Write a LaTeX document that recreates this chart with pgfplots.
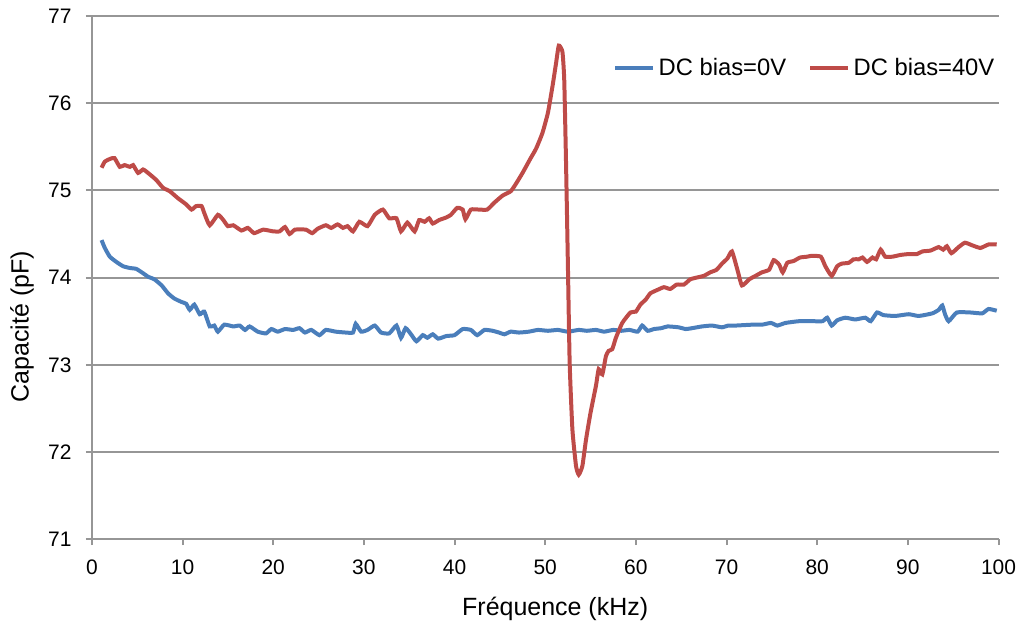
\documentclass[border=0pt]{standalone}
\usepackage{fontspec}
\setmainfont{Liberation Sans}
\usepackage{pgfplots}
\pgfplotsset{compat=1.18}

\definecolor{bias0}{RGB}{74,126,187}
\definecolor{bias40}{RGB}{190,75,72}
\definecolor{gridgray}{RGB}{150,150,150}

\begin{document}
\begin{tikzpicture}
\begin{axis}[
  scale only axis,
  width=454pt, height=262pt,
  xmin=0, xmax=100, ymin=71, ymax=77,
  xtick={0,10,...,100}, ytick={71,72,...,77},
  axis x line*=bottom, axis y line*=left,
  axis line style={gridgray, line width=1pt},
  tick style={gridgray, line width=1pt},
  tick align=outside, major tick length=3pt,
  ymajorgrids, major grid style={gridgray, line width=1pt},
  /pgf/number format/assume math mode=true,
  ticklabel style={font=\fontsize{10.5}{12}\selectfont, inner sep=1pt},
  xticklabel style={yshift=-6pt},
  yticklabel style={xshift=-6pt},
  xlabel={Fréquence (kHz)}, ylabel={Capacité (pF)},
  label style={font=\fontsize{12.5}{15}\selectfont},
  xlabel style={at={(axis description cs:0.511,-0.134)}, anchor=center},
  ylabel style={at={(axis description cs:-0.077,0.406)}, anchor=center},
  legend columns=2,
  legend style={draw=none, fill=none, at={(axis description cs:0.568,0.90)}, anchor=west,
    font=\fontsize{11.9}{14}\selectfont,
    /tikz/every even column/.append style={column sep=9pt}},
  legend image post style={xscale=1.1},
]
\addplot[bias0, line width=2pt, smooth, tension=0.3] coordinates {
(1.07,74.43) (1.43,74.34) (1.98,74.24) (2.7,74.18) (3.45,74.13) (4.2,74.11)
(4.9,74.10) (5.65,74.05) (6.2,74.01) (6.9,73.98) (7.7,73.91) (8.4,73.82)
(9.1,73.76) (9.9,73.72) (10.4,73.70) (10.8,73.63) (11.3,73.69) (11.9,73.58)
(12.4,73.61) (13.0,73.44) (13.5,73.45) (13.9,73.38) (14.6,73.46) (15.6,73.44)
(16.3,73.45) (16.9,73.40) (17.4,73.44) (18.3,73.38) (19.2,73.36) (19.8,73.41)
(20.5,73.38) (21.3,73.41) (22.2,73.40) (22.9,73.42) (23.5,73.37) (24.2,73.40)
(25.1,73.34) (25.8,73.40) (26.9,73.38) (28.0,73.37) (28.8,73.37) (29.1,73.47)
(29.7,73.38) (30.4,73.40) (31.2,73.45) (31.9,73.37) (32.8,73.36) (33.6,73.45)
(34.1,73.31) (34.6,73.42) (35.2,73.35) (35.8,73.27) (36.5,73.34) (37.0,73.31)
(37.6,73.35) (38.2,73.30) (39.1,73.33) (40.0,73.34) (40.9,73.41) (41.8,73.40)
(42.5,73.34) (43.3,73.40) (44.2,73.39) (44.9,73.37) (45.5,73.35) (46.2,73.38)
(47.1,73.37) (48.2,73.38) (49.2,73.40) (50.3,73.39) (51.4,73.40) (52.5,73.38)
(53.7,73.40) (54.6,73.39) (55.6,73.40) (56.5,73.38) (57.5,73.40) (58.4,73.39)
(59.3,73.40) (60.2,73.38) (60.7,73.45) (61.3,73.39) (62.0,73.41) (62.8,73.42)
(63.5,73.44) (64.7,73.43) (65.5,73.41) (66.2,73.42) (67.3,73.44) (68.4,73.45)
(69.5,73.43) (70.2,73.45) (71.0,73.45) (72.8,73.46) (73.9,73.46) (74.9,73.48)
(75.6,73.45) (76.5,73.48) (78.0,73.50) (79.5,73.50) (80.6,73.50) (81.1,73.54)
(81.6,73.45) (82.2,73.51) (83.1,73.54) (84.2,73.52) (85.3,73.54) (85.9,73.50)
(86.6,73.60) (87.3,73.57) (88.6,73.56) (90.1,73.58) (91.2,73.56) (92.7,73.59)
(93.4,73.63) (93.8,73.68) (94.1,73.58) (94.5,73.50) (95.4,73.60) (96.9,73.60)
(98.2,73.59) (98.9,73.64) (99.8,73.62)
};
\addlegendentry{DC bias=0V}
\addplot[bias40, line width=2pt, smooth, tension=0.3] coordinates {
(1.07,75.26) (1.43,75.33) (1.98,75.36) (2.5,75.37) (3.08,75.27) (3.6,75.29)
(4.2,75.27) (4.55,75.29) (5.1,75.20) (5.65,75.24) (6.2,75.20) (7.1,75.12)
(7.85,75.03) (8.6,74.99) (9.5,74.91) (10.4,74.84) (11.0,74.78) (11.5,74.82)
(12.1,74.82) (12.4,74.74) (13.0,74.60) (13.9,74.72) (14.5,74.66) (15.0,74.59)
(15.6,74.60) (16.5,74.54) (17.2,74.57) (17.9,74.51) (18.9,74.55) (20.0,74.53)
(20.7,74.53) (21.3,74.58) (21.8,74.50) (22.4,74.55) (23.6,74.55) (24.3,74.51)
(24.9,74.56) (25.8,74.60) (26.4,74.57) (27.1,74.61) (27.7,74.57) (28.2,74.59)
(28.8,74.53) (29.5,74.64) (30.4,74.59) (31.2,74.72) (32.1,74.78) (32.8,74.68)
(33.6,74.68) (34.1,74.53) (34.8,74.63) (35.6,74.53) (36.1,74.66) (36.7,74.64)
(37.2,74.68) (37.6,74.62) (38.3,74.66) (39.1,74.69) (39.6,74.72) (40.3,74.80)
(40.9,74.78) (41.2,74.67) (41.8,74.78) (42.7,74.78) (43.6,74.78) (44.4,74.86)
(45.3,74.94) (46.2,74.99) (46.8,75.08) (47.5,75.20) (48.4,75.37) (49.0,75.48)
(49.7,75.66) (50.3,75.89) (50.8,76.19) (51.2,76.46) (51.5,76.66) (51.9,76.59)
(52.1,76.27) (52.3,75.31) (52.5,74.17) (52.7,73.02) (53.0,72.26) (53.4,71.84)
(53.7,71.74) (54.1,71.84) (54.5,72.14) (55.0,72.45) (55.6,72.76) (55.9,72.95)
(56.3,72.89) (56.7,73.10) (57.0,73.16) (57.4,73.18) (57.8,73.31) (58.5,73.48)
(59.4,73.60) (60.0,73.61) (60.5,73.69) (61.1,73.75) (61.6,73.82) (62.4,73.86)
(63.1,73.89) (63.8,73.87) (64.5,73.92) (65.3,73.92) (66.0,73.98) (66.7,74.00)
(67.5,74.02) (68.2,74.06) (68.9,74.09) (69.5,74.16) (70.1,74.22) (70.6,74.30)
(71.2,74.09) (71.7,73.91) (72.5,73.98) (73.2,74.02) (73.9,74.06) (74.7,74.09)
(75.2,74.20) (75.8,74.15) (76.2,74.06) (76.7,74.17) (77.4,74.19) (78.1,74.23)
(78.9,74.24) (79.4,74.25) (80.4,74.24) (80.9,74.13) (81.6,74.02) (82.2,74.13)
(82.7,74.16) (83.5,74.17) (84.0,74.21) (84.6,74.21) (85.0,74.23) (85.5,74.18)
(86.1,74.23) (86.5,74.21) (87.0,74.32) (87.5,74.24) (88.3,74.24) (89.2,74.26)
(90.1,74.27) (91.0,74.27) (91.6,74.30) (92.5,74.31) (93.4,74.35) (93.9,74.32)
(94.3,74.36) (94.8,74.28) (95.6,74.35) (96.3,74.40) (97.1,74.37) (98.0,74.34)
(98.9,74.38) (99.8,74.38)
};
\addlegendentry{DC bias=40V}
\end{axis}
\path (-46pt,-42.5pt) rectangle (463pt,270pt);
\end{tikzpicture}
\end{document}
